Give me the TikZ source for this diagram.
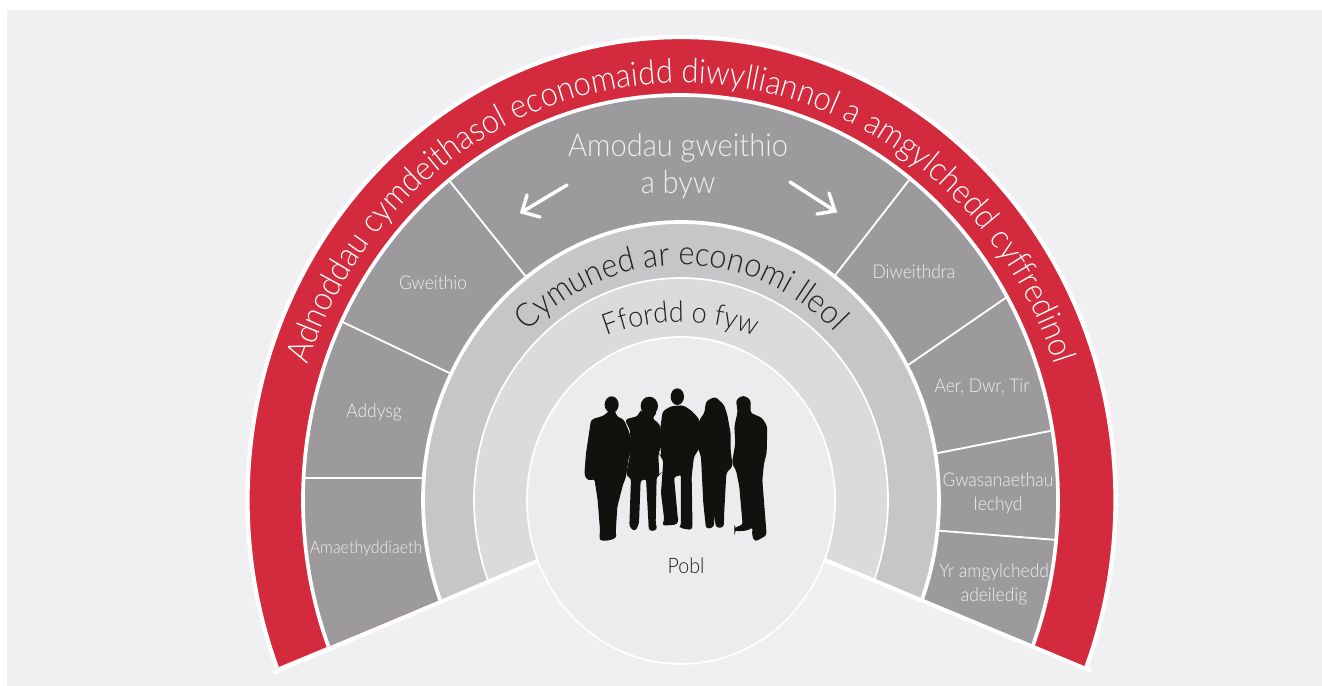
\documentclass[tikz,border=0pt]{standalone}
\usepackage{fontspec}
\usetikzlibrary{decorations.text}
\setmainfont{Lato}[UprightFont=* Light,FakeStretch=0.92]
\definecolor{bgc}{HTML}{F0F0F3}
\definecolor{redc}{HTML}{D32B3D}
\definecolor{greyc}{HTML}{9C9A9D}
\definecolor{commc}{HTML}{C6C6C9}
\definecolor{lifec}{HTML}{DBDBDC}
\definecolor{peoplec}{HTML}{ECECEF}
\definecolor{silc}{HTML}{12110D}
\definecolor{lightt}{HTML}{EEEEF0}
\definecolor{darkt}{HTML}{222222}
\tikzset{
  band/.style={draw=white,line width=2.8pt},
  thinband/.style={draw=white,line width=1.3pt},
  divider/.style={draw=white,line width=1.4pt},
  small/.style={text=lightt,font=\fontsize{14.2}{18}\selectfont,align=center,inner sep=0pt},
  big/.style={text=lightt,font=\fontsize{23.7}{28}\selectfont,align=center,inner sep=0pt},
  arrowline/.style={draw=white,line width=2.6pt,line cap=round,line join=miter},
  person/.style={fill=silc,draw=silc,line width=1pt,rounded corners=2pt},
}
\begin{document}
\begin{tikzpicture}[x=0.75pt,y=-0.75pt]
\useasboundingbox (0,0) rectangle (1322,686);
\fill[white] (0,0) rectangle (1322,686);
\fill[bgc] (7,10) rectangle (1322,686);
\begin{scope}
\clip (681,500) -- (-100,824) -- (-100,-100) -- (1462,-100) -- (1462,824) -- cycle;
\draw[band,fill=redc,line width=3.2pt] (681.5,500) ellipse [x radius=434,y radius=463];
\fill[greyc] (680.5,500) ellipse [x radius=377.5,y radius=405];
\begin{scope}
\clip (680.5,500) ellipse [x radius=377.5,y radius=405];
\draw[divider] (300,478) -- (430,478);
\draw[divider] (330,316) -- (460,378);
\draw[divider] (440,169) -- (535,288);
\draw[divider] (920,166) -- (826,287);
\draw[divider] (1020,288) -- (898,372);
\draw[divider] (1065,428) -- (928,455);
\draw[divider] (1070,541) -- (930,530);
\end{scope}
\draw[band] (680.5,500) ellipse [x radius=377.5,y radius=405];
\draw[band,fill=commc] (681,500) ellipse [x radius=258,y radius=278];
\draw[thinband,fill=lifec] (681,500) ellipse [x radius=207,y radius=222];
\end{scope}
\coordinate (apex) at (681,500);
\coordinate (wl) at (273,673);
\coordinate (wr) at (1091,671);
\draw[draw=white,line width=3pt] (apex) -- (wl);
\draw[draw=white,line width=3pt] (apex) -- (wr);
\draw[thinband,fill=peoplec] (681,500.5) ellipse [x radius=154,y radius=163.5];
% curved labels
\path[decorate,decoration={text along path,text align=center,
  text={|\fontsize{25.2}{30}\selectfont\color{white}|Adnoddau cymdeithasol economaidd diwylliannol a amgylchedd cyffredinol}}]
  (286,500) arc[start angle=180,end angle=360,x radius=395,y radius=417];
\path[decorate,decoration={text along path,text align=center,
  text={|\fontsize{25}{30}\selectfont\color{darkt}|Cymuned ar economi lleol}}]
  (461,500) arc[start angle=180,end angle=360,x radius=220,y radius=235];
\path[decorate,decoration={text along path,text align=center,
  text={|\fontsize{22}{28}\selectfont\color{darkt}|Ffordd o fyw}}]
  (491,500) arc[start angle=180,end angle=360,x radius=190,y radius=178];
% labels
\node[big] (amodau) at (678,166) {Amodau gweithio\\a byw};
\node[small] (gw) at (433,283) {Gweithio};
\node[small] (ad) at (374,412) {Addysg};
\node[small,font=\fontsize{13}{18}\selectfont] (am) at (366,549) {Amaethyddiaeth};
\node[small] (di) at (914,272) {Diweithdra};
\node[small] (ae) at (982,387) {Aer, Dwr, Tir};
\node[small] (gs) at (998,493) {Gwasanaethau\\Iechyd};
\node[small] (yr) at (994,584) {Yr amgylchedd\\adeiledig};
\node[text=darkt,font=\fontsize{16}{18}\selectfont,inner sep=0pt] (pobl) at (686,566) {Pobl};
% arrows
\coordinate (la) at (567,185); \coordinate (lb) at (522,212);
\coordinate (ra) at (790,182); \coordinate (rb) at (835,211);
\draw[arrowline] (la) -- (lb);
\draw[arrowline] (527,195) -- (lb) -- (540,217);
\draw[arrowline] (ra) -- (rb);
\draw[arrowline] (829,193) -- (rb) -- (817,214);
% silhouettes
\begin{scope}[shift={(560,370)},scale=0.3333]
\fill[silc] (155,104) ellipse [x radius=21,y radius=25];
\filldraw[person] (145,125)--(165,125)--(168,140)--(190,150)--(205,185)--(218,230)--(205,260)--(195,325)--(188,340)--(170,410)--(165,490)--(168,502)--(145,510)--(120,510)--(122,480)--(115,390)--(105,325)--(85,330)--(75,315)--(80,250)--(95,150)--(135,138)--cycle;
\fill[silc] (268,108) ellipse [x radius=26,y radius=28];
\filldraw[person] (240,125)--(235,140)--(197,150)--(212,180)--(215,240)--(200,315)--(215,325)--(210,470)--(225,482)--(235,460)--(240,330)--(260,325)--(268,470)--(270,482)--(290,478)--(285,460)--(288,320)--(296,315)--(293,255)--(305,215)--(298,165)--(275,145)--(290,125)--cycle;
\fill[silc] (352,80) ellipse [x radius=20,y radius=25];
\filldraw[person] (335,110)--(310,125)--(302,180)--(305,262)--(312,270)--(305,370)--(315,450)--(308,465)--(350,462)--(352,450)--(340,320)--(365,312)--(365,465)--(360,472)--(395,478)--(395,440)--(393,320)--(400,260)--(422,225)--(417,150)--(395,125)--(370,108)--cycle;
\filldraw[person] (440,95)--(465,82)--(490,105)--(500,135)--(510,190)--(510,240)--(516,290)--(505,298)--(497,310)--(490,440)--(490,470)--(470,472)--(465,440)--(462,310)--(460,470)--(440,475)--(432,400)--(425,260)--(415,230)--(420,150)--(435,130)--cycle;
\filldraw[person] (530,90)--(550,78)--(570,90)--(570,130)--(605,145)--(620,170)--(618,250)--(610,280)--(605,330)--(612,420)--(618,495)--(585,513)--(578,495)--(580,470)--(560,480)--(525,482)--(525,475)--(550,465)--(540,350)--(530,300)--(518,280)--(528,220)--(525,170)--(535,125)--cycle;
\end{scope}
\end{tikzpicture}
\end{document}
